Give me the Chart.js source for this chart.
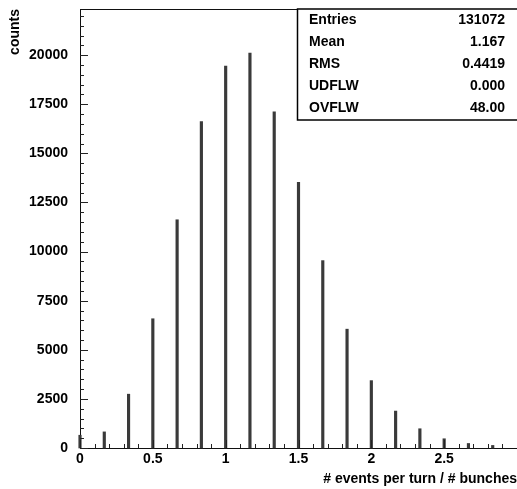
<!DOCTYPE html>
<html>
<head>
<meta charset="utf-8">
<script src="https://cdn.jsdelivr.net/npm/chart.js@4.4.1/dist/chart.umd.min.js"></script>
<style>
  html, body { margin: 0; padding: 0; background: #fff; overflow: hidden; }
</style>
</head>
<body>
<canvas id="chart" width="517" height="489"></canvas>
<script>
// histogram bins (events per turn / bunches) and their counts
const binCenters = [0, 0.1667, 0.3333, 0.5, 0.6667, 0.8333, 1, 1.1667, 1.3333,
                    1.5, 1.6667, 1.8333, 2, 2.1667, 2.3333, 2.5, 2.6667, 2.8333]
const counts = [650, 820, 2740, 6580, 11620, 16620, 19450, 20100, 17120,
                13520, 9540, 6050, 3430, 1880, 980, 470, 230, 130]

const xTickValues = [0, 0.5, 1, 1.5, 2, 2.5]
const yTickValues = [0, 2500, 5000, 7500, 10000, 12500, 15000, 17500, 20000]
const yMinorStep = 500
const xMinorStep = 0.1

const statLabels = ['Entries', 'Mean', 'RMS', 'UDFLW', 'OVFLW']
const statValues = ['131072', '1.167', '0.4419', '0.000', '48.00']

const FONT = "'Liberation Sans', Arial, sans-serif"
const boldFont = { family: FONT, weight: 'bold', size: 14 }

// ROOT style: ticks point into the frame, plus the stats box
const rootDecor = {
    id: 'rootDecor',
    afterDraw(chart) {
        const { ctx, chartArea: a, scales: { x, y } } = chart
        ctx.save()
        ctx.strokeStyle = '#222'
        ctx.lineWidth = 1
        ctx.beginPath()
        const nY = Math.floor(y.max / yMinorStep)
        for (let i = 0; i <= nY; i++) {
            const v = i * yMinorStep
            const py = Math.round(y.getPixelForValue(v)) + 0.5
            const len = yTickValues.includes(v) ? 8 : 4
            ctx.moveTo(a.left, py)
            ctx.lineTo(a.left + len, py)
        }
        const nX = Math.floor(x.max / xMinorStep + 1e-6)
        for (let i = 0; i <= nX; i++) {
            const v = i * xMinorStep
            const px = Math.round(x.getPixelForValue(v)) + 0.5
            const major = xTickValues.some(t => Math.abs(t - v) < 1e-6)
            const len = major ? 8 : 4
            ctx.moveTo(px, a.bottom)
            ctx.lineTo(px, a.bottom - len)
        }
        ctx.stroke()

        // stats box
        const bx = 297.5, by = 9, bw = 240, bh = 111
        ctx.fillStyle = '#fff'
        ctx.fillRect(bx, by, bw, bh)
        ctx.strokeStyle = '#000'
        ctx.lineWidth = 1.5
        ctx.strokeRect(bx, by, bw, bh)
        ctx.fillStyle = '#000'
        ctx.font = `bold 14px ${FONT}`
        ctx.textBaseline = 'middle'
        statLabels.forEach((lab, i) => {
            const ty = 20.5 + i * 22
            ctx.textAlign = 'left'
            ctx.fillText(lab, 309, ty)
            ctx.textAlign = 'right'
            ctx.fillText(statValues[i], 505, ty)
        })
        ctx.restore()
    }
}

new Chart(document.getElementById('chart'), {
    type: 'bar',
    data: {
        datasets: [{
            data: binCenters.map((x, i) => ({ x: x, y: counts[i] })),
            backgroundColor: '#3a3a3a',
            borderWidth: 0,
            barThickness: 2.5,
            clip: false,
        }]
    },
    options: {
        responsive: false,
        animation: false,
        layout: { padding: { top: 9, left: 0, right: 0, bottom: 0 } },
        plugins: {
            legend: { display: false },
            tooltip: { enabled: false },
        },
        scales: {
            x: {
                type: 'linear',
                position: 'bottom',
                min: 0,
                max: 3,
                offset: false,
                grid: { display: false, drawTicks: false },
                border: { display: true, color: '#111', width: 1 },
                ticks: {
                    autoSkip: false,
                    maxRotation: 0,
                    padding: 3,
                    color: '#000',
                    font: boldFont,
                    callback: v => String(v),
                },
                afterBuildTicks: s => { s.ticks = xTickValues.map(v => ({ value: v })) },
                afterFit: s => {
                    s.height = 41
                    s.paddingLeft = 0
                    s.paddingRight = 0
                },
                title: {
                    display: true,
                    text: '# events per turn / # bunches',
                    align: 'end',
                    color: '#000',
                    font: boldFont,
                    padding: { top: 0, bottom: 1 },
                },
            },
            xTop: {
                type: 'linear',
                position: 'top',
                min: 0,
                max: 3,
                grid: { display: false, drawTicks: false },
                border: { display: true, color: '#111', width: 1 },
                ticks: { display: false },
                afterFit: s => {
                    s.height = 0
                    s.paddingLeft = 0
                    s.paddingRight = 0
                },
            },
            y: {
                type: 'linear',
                min: 0,
                max: 22350,
                grid: { display: false, drawTicks: false },
                border: { display: true, color: '#111', width: 1 },
                ticks: {
                    padding: 12,
                    color: '#000',
                    font: boldFont,
                    callback: v => String(v),
                },
                afterBuildTicks: s => { s.ticks = yTickValues.map(v => ({ value: v })) },
                afterFit: s => {
                    s.width = 80
                    s.paddingTop = 0
                    s.paddingBottom = 0
                },
                title: {
                    display: true,
                    text: 'counts',
                    align: 'end',
                    color: '#000',
                    font: boldFont,
                    padding: { top: 7, bottom: 0 },
                },
            },
        },
    },
    plugins: [rootDecor],
})
</script>
</body>
</html>
